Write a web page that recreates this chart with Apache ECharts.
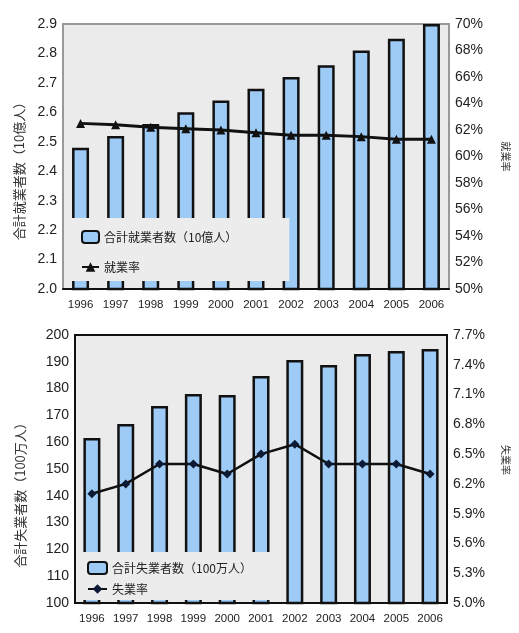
<!DOCTYPE html>
<html>
<head>
<meta charset="utf-8">
<script src="https://cdn.jsdelivr.net/npm/echarts@6/dist/echarts.min.js"></script>
<style>
html,body{margin:0;padding:0;background:#fff;}
#main{width:519px;height:633px;}
</style>
</head>
<body>
<div id="main"></div>
<script>
// データ
var years = ['1996','1997','1998','1999','2000','2001','2002','2003','2004','2005','2006'];
var employed = [2.48, 2.52, 2.56, 2.60, 2.64, 2.68, 2.72, 2.76, 2.81, 2.85, 2.90];
var employmentRate = [62.5, 62.4, 62.2, 62.1, 62.0, 61.8, 61.6, 61.6, 61.5, 61.3, 61.3];
var unemployed = [161.6, 166.8, 173.5, 178.0, 177.6, 184.7, 190.7, 188.8, 192.9, 194.0, 194.8];
var unemploymentRate = [6.1, 6.2, 6.4, 6.4, 6.3, 6.5, 6.6, 6.4, 6.4, 6.4, 6.3];
var rateTicks = [5.0, 5.3, 5.6, 5.9, 6.2, 6.5, 6.8, 7.1, 7.4, 7.7];

var latin = 'Liberation Sans, Arial, sans-serif';
var cjk = '"Noto Sans CJK JP", sans-serif';
var barColor = '#9dcbf6';
var dark = '#111';

var yLabel = {fontFamily: latin, fontSize: 14, color: '#222', margin: 6};
var axisLine = {lineStyle: {color: dark, width: 2}};
var axisTick = {length: 5, lineStyle: {color: dark, width: 2}};

function xAxis(grid){
	return {
		type: 'category', gridIndex: grid, data: years,
		axisLine: axisLine,
		axisTick: {interval: 0, length: 6, lineStyle: {color: dark, width: 2}},
		axisLabel: {interval: 0, fontFamily: latin, fontSize: 11.5, color: '#222', margin: 10}
	};
}

var option = {
	animation: false,
	grid: [
		{left: 63, right: 61, top: 24, height: 265, show: true, backgroundColor: '#ebebeb', borderColor: '#999', borderWidth: 2},
		{left: 75, right: 67, top: 335, height: 268, show: true, backgroundColor: '#ebebeb', borderColor: dark, borderWidth: 2}
	],
	legend: [
		{
			data: ['合計就業者数（10億人）', '就業率'],
			orient: 'vertical', left: 65, top: 218,
			padding: [12, 52, 8, 16], itemGap: 17,
			itemWidth: 17, itemHeight: 12,
			backgroundColor: '#ececec',
			textStyle: {fontFamily: cjk, fontSize: 12, color: '#222'}
		},
		{
			data: ['合計失業者数（100万人）', '失業率'],
			orient: 'vertical', left: 77, top: 552,
			padding: [9, 22, 5, 10], itemGap: 8,
			itemWidth: 19, itemHeight: 12,
			backgroundColor: '#ececec',
			textStyle: {fontFamily: cjk, fontSize: 12, color: '#222'}
		}
	],
	xAxis: [xAxis(0), xAxis(1)],
	yAxis: [
		{
			type: 'value', gridIndex: 0, min: 2.0, max: 2.9, interval: 0.1,
			name: '合計就業者数（10億人）', nameLocation: 'middle', nameGap: 37,
			nameTextStyle: {fontFamily: cjk, fontSize: 13, color: '#333', padding: [0, 23, 0, 0]},
			axisLine: axisLine, axisTick: axisTick, splitLine: {show: false},
			axisLabel: Object.assign({formatter: function(v){ return v.toFixed(1); }}, yLabel)
		},
		{
			type: 'value', gridIndex: 0, position: 'right', min: 50, max: 70, interval: 2,
			name: '就業率', nameLocation: 'middle', nameGap: 52, nameRotate: -90,
			nameTextStyle: {fontFamily: cjk, fontSize: 10, color: '#333'},
			axisLine: axisLine, axisTick: axisTick, splitLine: {show: false},
			axisLabel: Object.assign({formatter: '{value}%'}, yLabel)
		},
		{
			type: 'value', gridIndex: 1, min: 100, max: 200, interval: 10,
			name: '合計失業者数（100万人）', nameLocation: 'middle', nameGap: 48,
			nameTextStyle: {fontFamily: cjk, fontSize: 13, color: '#333', padding: [0, 46, 0, 0]},
			axisLine: axisLine, axisTick: axisTick, splitLine: {show: false},
			axisLabel: yLabel
		},
		{
			type: 'value', gridIndex: 1, position: 'right', min: 5.0, max: 7.7,
			name: '失業率', nameLocation: 'middle', nameGap: 54, nameRotate: -90,
			nameTextStyle: {fontFamily: cjk, fontSize: 10, color: '#333', padding: [0, 18, 0, 0]},
			axisLine: axisLine,
			axisTick: Object.assign({customValues: rateTicks}, axisTick),
			splitLine: {show: false},
			axisLabel: Object.assign({customValues: rateTicks, formatter: function(v){ return v.toFixed(1) + '%'; }}, yLabel)
		}
	],
	series: [
		{
			name: '合計就業者数（10億人）', type: 'bar', xAxisIndex: 0, yAxisIndex: 0,
			data: employed, barWidth: 17,
			itemStyle: {color: barColor, borderColor: dark, borderWidth: 2.5}
		},
		{
			name: '就業率', type: 'line', xAxisIndex: 0, yAxisIndex: 1,
			data: employmentRate, symbol: 'triangle', symbolSize: 9,
			lineStyle: {color: dark, width: 3}, itemStyle: {color: dark}
		},
		{
			name: '合計失業者数（100万人）', type: 'bar', xAxisIndex: 1, yAxisIndex: 2,
			data: unemployed, barWidth: 17,
			itemStyle: {color: barColor, borderColor: dark, borderWidth: 2.5}
		},
		{
			name: '失業率', type: 'line', xAxisIndex: 1, yAxisIndex: 3,
			data: unemploymentRate, symbol: 'diamond', symbolSize: 9,
			lineStyle: {color: dark, width: 2.5}, itemStyle: {color: '#0c1a36'}
		}
	]
};

var chart = echarts.init(document.getElementById('main'));
chart.setOption(option);
</script>
</body>
</html>
